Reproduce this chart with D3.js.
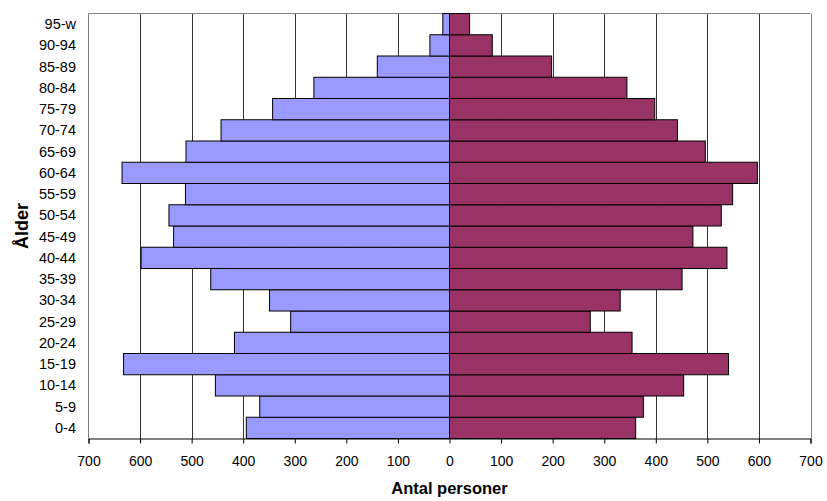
<!DOCTYPE html>
<html><head><meta charset="utf-8">
<script src="https://cdn.jsdelivr.net/npm/d3@7"></script>
<style>body{margin:0;background:#fff}svg{display:block}</style>
</head><body>
<svg id="c" width="827" height="501"></svg>
<script>
const categories = ["0-4","5-9","10-14","15-19","20-24","25-29","30-34","35-39","40-44","45-49","50-54","55-59","60-64","65-69","70-74","75-79","80-84","85-89","90-94","95-w"];
const men   = [394,368,454,632,417,308,349,463,598,535,544,512,635,511,443,343,263,140,38,13];
const women = [361,376,454,541,354,273,331,451,538,472,527,549,597,496,442,398,344,198,83,39];
const xTicks = [-700,-600,-500,-400,-300,-200,-100,0,100,200,300,400,500,600,700];

const svg = d3.select("#c");
const L = 88.5, R = 810.5, T = 13.5, B = 438.5;
const x = d3.scaleLinear().domain([-700,700]).range([L,R]);
const y = d3.scaleBand().domain(categories.slice().reverse()).range([T,B]).padding(0);
const font = "'Liberation Sans', Arial, sans-serif";

// gridlines
svg.append("g").selectAll("line").data(xTicks.filter(d=>d!==-700 && d!==0))
  .join("line").attr("x1",d=>Math.round(x(d))+0.5).attr("x2",d=>Math.round(x(d))+0.5)
  .attr("y1",T).attr("y2",B).attr("stroke",d=>d===700?"#808080":"#333").attr("stroke-width",1);
// plot border top/left
svg.append("line").attr("x1",L).attr("x2",R).attr("y1",T).attr("y2",T).attr("stroke","#808080");
svg.append("line").attr("x1",L).attr("x2",L).attr("y1",T).attr("y2",B).attr("stroke","#808080");

// bars
svg.append("g").selectAll("rect").data(categories)
  .join("rect").attr("x",(d,i)=>x(-men[i])).attr("width",(d,i)=>x(0)-x(-men[i]))
  .attr("y",d=>y(d)).attr("height",y.bandwidth())
  .attr("fill","#9999FF").attr("stroke","#000").attr("stroke-width",1);
svg.append("g").selectAll("rect").data(categories)
  .join("rect").attr("x",x(0)).attr("width",(d,i)=>x(women[i])-x(0))
  .attr("y",d=>y(d)).attr("height",y.bandwidth())
  .attr("fill","#993366").attr("stroke","#000").attr("stroke-width",1);

// x axis
const xa = svg.append("g").attr("transform",`translate(0,${B})`)
  .call(d3.axisBottom(x).tickValues(xTicks).tickFormat(d=>Math.abs(d)).tickSize(5).tickPadding(13));
xa.select(".domain").attr("stroke","#000");
xa.selectAll(".tick line").attr("stroke","#000");
xa.selectAll("text").attr("font-family",font).attr("font-size",14).attr("fill","#000");

// y labels
svg.append("g").selectAll("text").data(categories).join("text")
  .attr("x",76).attr("y",d=>y(d)+y.bandwidth()/2).attr("dy","0.35em")
  .attr("text-anchor","end").attr("font-family",font).attr("font-size",14.5).text(d=>d);

// titles
svg.append("text").attr("x",(L+R)/2).attr("y",494).attr("text-anchor","middle")
  .attr("font-family",font).attr("font-size",16.5).attr("font-weight","bold").text("Antal personer");
svg.append("text").attr("transform",`translate(28,${(T+B)/2}) rotate(-90)`).attr("text-anchor","middle")
  .attr("font-family",font).attr("font-size",18).attr("font-weight","bold").text("Ålder");
</script>
</body></html>
